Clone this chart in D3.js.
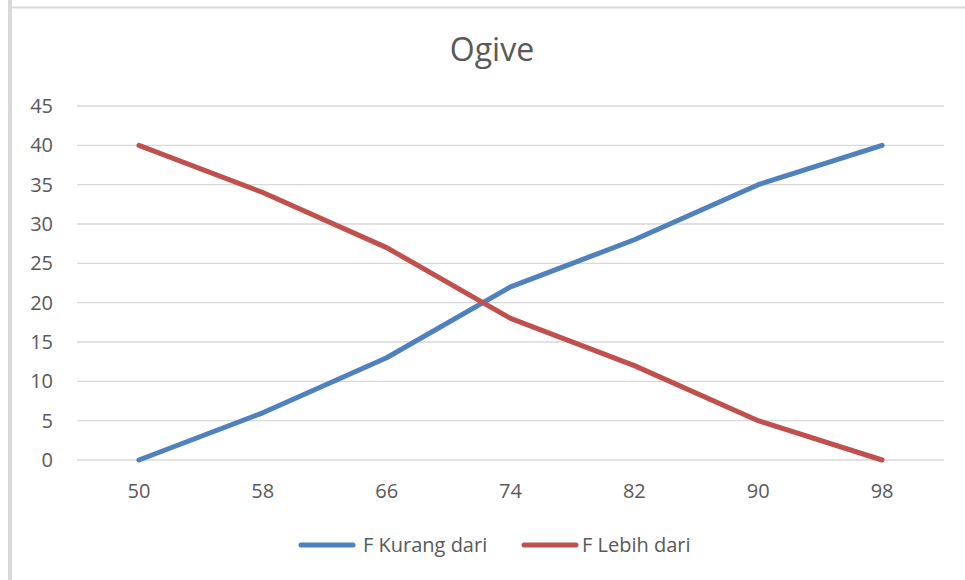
<!DOCTYPE html>
<html>
<head>
<meta charset="utf-8">
<script src="https://cdn.jsdelivr.net/npm/d3@7"></script>
<style>
  body { margin: 0; background: #fff; }
  text { font-family: "Open Sans", "Liberation Sans", sans-serif; fill: #595959; }
</style>
</head>
<body>
<div id="chart"></div>
<script>
var categories = ["50", "58", "66", "74", "82", "90", "98"];
var kurangDari = [0, 6, 13, 22, 28, 35, 40];
var lebihDari = [40, 34, 27, 18, 12, 5, 0];
var yTicks = [0, 5, 10, 15, 20, 25, 30, 35, 40, 45];

var series = [
    {name: "F Kurang dari", values: kurangDari, color: "#4f81bd"},
    {name: "F Lebih dari", values: lebihDari, color: "#c0504d"}
];

var svgWidth = 965, svgHeight = 580;
var margin = {top: 106, right: 21, bottom: 120, left: 77};
var width = svgWidth - margin.left - margin.right;
var height = 460 - margin.top;

var svg = d3.select("#chart").append("svg")
    .attr("width", svgWidth)
    .attr("height", svgHeight);

// chart frame (only top and left visible)
svg.append("rect").attr("x", 8).attr("y", 0).attr("width", 4).attr("height", svgHeight).attr("fill", "#d9d9d9");
svg.append("line").attr("x1", 8).attr("x2", svgWidth).attr("y1", 7.5).attr("y2", 7.5)
    .attr("stroke", "#d9d9d9").attr("stroke-width", 2);

svg.append("text")
    .attr("x", 492).attr("y", 61)
    .attr("text-anchor", "middle")
    .style("font-size", "32px")
    .text("Ogive");

var chartGroup = svg.append("g")
    .attr("transform", `translate(${margin.left}, ${margin.top})`);

var xScale = d3.scaleBand().domain(categories).range([0, width]);
var yScale = d3.scaleLinear().domain([0, 45]).range([height, 0]);

// gridlines
chartGroup.selectAll(".grid")
    .data(yTicks)
    .enter()
    .append("line")
    .attr("x1", 0).attr("x2", width)
    .attr("y1", d => yScale(d)).attr("y2", d => yScale(d))
    .attr("stroke", "#d9d9d9")
    .attr("stroke-width", 1.3);

// y axis labels
var yAxis = d3.axisLeft(yScale).tickValues(yTicks).tickSize(0).tickPadding(24);
var yG = chartGroup.append("g").call(yAxis);
yG.select(".domain").remove();
yG.selectAll("text").style("font-size", "20px").attr("fill", "#595959");

// x axis labels
var xAxis = d3.axisBottom(xScale).tickSize(0).tickPadding(24);
var xG = chartGroup.append("g").attr("transform", `translate(0, ${height})`).call(xAxis);
xG.select(".domain").remove();
xG.selectAll("text").style("font-size", "20px").attr("fill", "#595959");

var line = d3.line()
    .x((d, i) => xScale(categories[i]) + xScale.bandwidth() / 2)
    .y(d => yScale(d));

series.forEach(s => {
    chartGroup.append("path")
        .datum(s.values)
        .attr("d", line)
        .attr("fill", "none")
        .attr("stroke", s.color)
        .attr("stroke-width", 5)
        .attr("stroke-linecap", "round")
        .attr("stroke-linejoin", "round");
});

// legend
var legendX = [301, 524];
var legend = svg.selectAll(".legend")
    .data(series)
    .enter()
    .append("g")
    .attr("transform", (d, i) => `translate(${legendX[i]}, 545)`);
legend.append("line")
    .attr("x1", 0).attr("x2", 52)
    .attr("stroke", d => d.color)
    .attr("stroke-width", 5)
    .attr("stroke-linecap", "round");
legend.append("text")
    .attr("x", (d, i) => i === 0 ? 62 : 58)
    .attr("y", 7)
    .style("font-size", "20px")
    .text(d => d.name);
</script>
</body>
</html>
